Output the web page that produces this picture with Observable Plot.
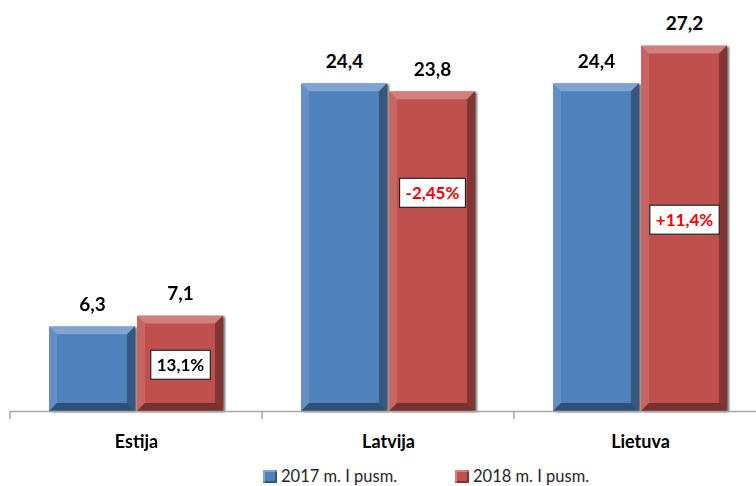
<!DOCTYPE html>
<html>
<head>
<meta charset="utf-8">
<script src="https://cdn.jsdelivr.net/npm/d3@7"></script>
<script src="https://cdn.jsdelivr.net/npm/@observablehq/plot@0.6"></script>
<style>
  body { margin: 0; background: #fff; font-family: Lato, "Open Sans", sans-serif; }
  #wrap { position: relative; width: 756px; height: 486px; overflow: hidden; background: #fff; }
  #chart { position: absolute; left: 0; top: 0; width: 766px; }
  #chart svg { max-width: none !important; }
  .leg { position: absolute; top: 466px; height: 20px; display: flex; align-items: center;
         font: 16.5px Lato, sans-serif; color: #262626; white-space: nowrap; }
  .sw { width: 14px; height: 13px; margin-right: 4px; box-sizing: border-box;
        box-shadow: inset 2px 2px 0 rgba(255,255,255,0.3), inset -2px -2px 0 rgba(0,0,0,0.35); }
</style>
</head>
<body>
<div id="wrap"><div id="chart"></div></div>
<script>
const categories = ["Estija", "Latvija", "Lietuva"];
const seriesNames = ["2017 m. I pusm.", "2018 m. I pusm."];
const values2017 = [6.3, 24.4, 24.4];
const values2018 = [7.1, 23.8, 27.2];
const changeLabels = ["13,1%", "-2,45%", "+11,4%"];
const changeLabelY = [3.4, 16.2, 14.2];
const changeColors = ["#000000", "#FF0000", "#FF0000"];
const seriesColors = ["#4F81BD", "#C0504D"];

const rows = categories.flatMap((c, i) => [
  {cat: c, series: seriesNames[0], value: values2017[i]},
  {cat: c, series: seriesNames[1], value: values2018[i]}
]);
const changeRows = categories.map((c, i) => ({cat: c, series: seriesNames[1], y: changeLabelY[i], label: changeLabels[i], color: changeColors[i]}));
const fmt = v => v.toFixed(1).replace(".", ",");

const plot = Plot.plot({
  width: 766, height: 458,
  marginLeft: 10, marginRight: 0, marginTop: 8, marginBottom: 47,
  style: {fontFamily: "Lato, sans-serif", background: "transparent", overflow: "visible", maxWidth: "none"},
  fx: {domain: categories, padding: 0, axis: null, label: null},
  x: {domain: seriesNames, paddingInner: 0.02, paddingOuter: 0.43, axis: null},
  y: {domain: [0, 30], axis: null},
  color: {domain: seriesNames, range: seriesColors},
  marks: [
    Plot.barY(rows, {fx: "cat", x: "series", y: "value", fill: "series", ariaDescription: "bars"}),
    Plot.ruleY([0], {stroke: "#a6a6a6", strokeWidth: 1.5}),
    Plot.text(rows, {fx: "cat", x: "series", y: "value", text: d => fmt(d.value), dy: -22,
      fontSize: 19, fontWeight: "bold", fill: "#000"}),
    ...changeRows.map(r => Plot.text([r], {fx: "cat", x: "series", y: "y", text: "label",
      fontSize: 17, fontWeight: "bold", fill: r.color, ariaDescription: "change"})),
    Plot.text(categories, {fx: d => d, y: 0, text: d => d, dy: 31,
      fontSize: 18, fontWeight: "bold", fill: "#000"})
  ]
});
document.getElementById("chart").appendChild(plot);
const svg = d3.select(plot.tagName.toLowerCase() === "svg" ? plot : plot.querySelector("svg"));
svg.style("max-width", "none");

// Bevel effect on bars
svg.selectAll('g[aria-description="bars"]').style("filter", "drop-shadow(2.5px 1px 1.2px rgba(0,0,0,0.6))");
svg.selectAll('g[aria-description="bars"] rect').each(function () {
  const r = d3.select(this);
  const x = +r.attr("x"), y = +r.attr("y"), w = +r.attr("width"), h = +r.attr("height");
  const b = 8;
  const p = d3.select(this.parentNode);
  const poly = (pts, fill, op) => p.append("polygon")
    .attr("points", pts.map(q => q.join(",")).join(" "))
    .attr("fill", fill).attr("fill-opacity", op);
  poly([[x, y], [x + w, y], [x + w - b, y + b], [x + b, y + b]], "#fff", 0.28);
  poly([[x, y], [x + b, y + b], [x + b, y + h - b], [x, y + h]], "#fff", 0.12);
  poly([[x + w, y], [x + w, y + h], [x + w - b, y + h - b], [x + w - b, y + b]], "#000", 0.32);
  poly([[x, y + h], [x + w, y + h], [x + w - b, y + h - b], [x + b, y + h - b]], "#000", 0.38);
});

// Boxes behind change labels
svg.selectAll('g[aria-description="change"] text').each(function () {
  const bb = this.getBBox();
  const t = d3.select(this);
  d3.select(this.parentNode).insert("rect", () => this)
    .attr("x", bb.x - 6).attr("y", bb.y - 4)
    .attr("width", bb.width + 12).attr("height", bb.height + 8)
    .attr("transform", t.attr("transform"))
    .attr("fill", "#fff").attr("stroke", "#262626").attr("stroke-width", 1.2);
});

// Category boundary ticks
const fxs = plot.scale("fx");
const ys = plot.scale("y");
categories.forEach(c => {
  const xx = fxs.apply(c);
  const y0 = ys.apply(0);
  svg.append("line").attr("x1", xx).attr("x2", xx).attr("y1", y0).attr("y2", y0 + 8)
    .attr("stroke", "#a6a6a6").attr("stroke-width", 1.5);
});

// Legend
const wrap = document.getElementById("wrap");
const legendLeft = [263, 455];
seriesNames.forEach((s, i) => {
  const item = document.createElement("div");
  item.className = "leg";
  item.style.left = legendLeft[i] + "px";
  const sw = document.createElement("div");
  sw.className = "sw";
  sw.style.background = seriesColors[i];
  const tx = document.createElement("span");
  tx.textContent = s;
  item.appendChild(sw); item.appendChild(tx);
  wrap.appendChild(item);
});
</script>
</body>
</html>
